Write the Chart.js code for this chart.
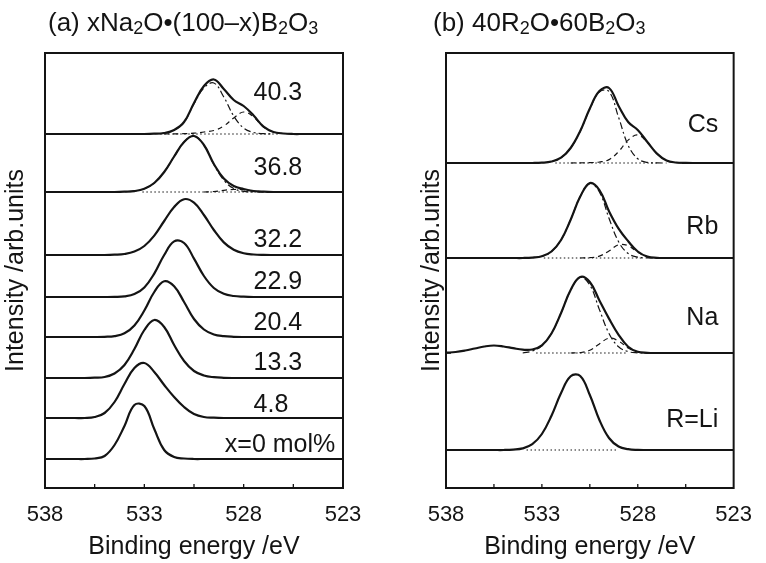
<!DOCTYPE html>
<html>
<head>
<meta charset="utf-8">
<script src="https://cdn.jsdelivr.net/npm/chart.js@4.4.1/dist/chart.umd.min.js"></script>
<style>
  html, body { margin: 0; padding: 0; background: #fff; }
  #wrap { position: relative; width: 766px; height: 563px; }
  canvas { position: absolute; top: 0; }
  #chartA { left: 0; }
  #chartB { left: 383px; }
</style>
</head>
<body>
<div id="wrap">
  <canvas id="chartA" width="383" height="563"></canvas>
  <canvas id="chartB" width="383" height="563"></canvas>
</div>
<script>
// binding energy grid (eV), 0.5 eV steps from 538 down to 523
const ENERGY = [538, 537.5, 537, 536.5, 536, 535.5, 535, 534.5, 534, 533.5, 533, 532.5, 532, 531.5, 531,
  530.5, 530, 529.5, 529, 528.5, 528, 527.5, 527, 526.5, 526, 525.5, 525, 524.5, 524, 523.5, 523];
const ENERGY_LABELS = [538, 533, 528, 523];
const MINOR_TICKS = [535.5, 533, 530.5, 528, 525.5];

// (a) xNa2O-(100-x)B2O3 : intensities above each baseline (arb. units)
const labelsA = ['x=0 mol%', '4.8', '13.3', '20.4', '22.9', '32.2', '36.8', '40.3'];
const offsetsA = [29, 70, 110, 151, 191, 233, 296, 354];
const labelEnergyA = [528.95, 527.5, 527.5, 527.5, 527.5, 527.5, 527.5, 527.5];
const labelRiseA = [14, 13, 15, 14, 15, 15, 24, 41];

const na0 = [0, 0, 0, 0, 0, 0.5, 3, 14, 33, 54, 53, 30, 9, 2, 0.5, 0, 0, 0, 0, 0, 0, 0, 0, 0, 0, 0, 0, 0, 0, 0, 0];
const na48 = [0, 0, 0, 0, 0, 1, 5, 16, 34, 50, 55, 46, 33, 21, 11, 4, 1, 0.3, 0, 0, 0, 0, 0, 0, 0, 0, 0, 0, 0, 0, 0];
const na133 = [0, 0, 0, 0, 0, 0.3, 1, 4.5, 13, 29, 48, 58, 51, 33, 17, 7, 2.5, 0.8, 0.2, 0, 0, 0, 0, 0, 0, 0, 0, 0, 0, 0, 0];
const na204 = [0, 0, 0, 0, 0, 0, 0.2, 0.9, 3.7, 11.5, 26.5, 45, 55.7, 50.7, 35, 18, 7.5, 2.5, 0.8, 0.2, 0, 0, 0, 0, 0, 0, 0, 0, 0, 0, 0];
const na229 = [0, 0, 0, 0, 0, 0, 0, 0.1, 0.6, 2.9, 9.6, 23.4, 42, 55.6, 54, 38.4, 21, 9, 3.2, 1, 0.3, 0, 0, 0, 0, 0, 0, 0, 0, 0, 0];
const na322 = [0, 0, 0, 0, 0, 0, 0, 0.3, 1, 3.4, 9, 19.4, 34, 48, 55.8, 52.4, 40, 25, 12.6, 5.2, 1.7, 0.5, 0.1, 0, 0, 0, 0, 0, 0, 0, 0];
const na368 = [0, 0, 0, 0, 0, 0, 0, 0, 0.3, 0.9, 3.3, 9, 20, 35.5, 50, 56, 47, 28, 13.5, 6, 3, 1, 0.3, 0, 0, 0, 0, 0, 0, 0, 0];
const na368Main = [null, null, null, null, null, null, null, 0, 0.3, 0.9, 3.3, 9, 20, 35.5, 50, 56, 47, 27.5, 11.8, 3.5, 0.7, 0.1, 0, null, null, null, null, null, null, null, null];
const na368Low = [null, null, null, null, null, null, null, null, null, null, null, null, null, null, null, null, 0, 0.5, 1.7, 2.5, 2.3, 0.9, 0.3, 0, null, null, null, null, null, null, null];
const na403 = [0, 0, 0, 0, 0, 0, 0, 0, 0, 0, 0, 0.3, 1, 4, 12, 31, 48, 54.5, 45, 34, 28, 18.5, 7.3, 2, 0.5, 0, 0, 0, 0, 0, 0];
const na403Main = [null, null, null, null, null, null, null, null, null, null, 0, 0.3, 1, 4, 11.7, 30.2, 46, 51, 37, 18, 6, 1.5, 0.3, 0, null, null, null, null, null, null, null];
const na403Low = [null, null, null, null, null, null, null, null, null, null, null, null, 0.1, 0.2, 0.3, 0.8, 2, 3.5, 8, 16, 22, 17, 7, 2, 0.5, 0, null, null, null, null, null];
const bg368 = [533.1, 526.2];
const bg403 = [532.2, 526.2];

// (b) 40R2O-60B2O3
const labelsB = ['R=Li', 'Na', 'Rb', 'Cs'];
const offsetsB = [38, 135, 230, 325];
const labelEnergyB = [523.8, 523.8, 523.8, 523.8];
const labelRiseB = [30, 35, 31, 38];

const li = [0, 0, 0, 0, 0, 0, 0, 0.4, 1.6, 5.8, 16, 34.2, 56.9, 73.7, 74, 55, 30, 12, 3.5, 0.8, 0.1, 0, 0, 0, 0, 0, 0, 0, 0, 0, 0];
const na = [0.3, 1, 2.5, 4.5, 6.5, 7.5, 6.5, 4.8, 3.3, 3.5, 7.7, 19.5, 40, 63, 76, 71, 52.5, 34.4, 18.2, 6.3, 1.2, 0.2, 0, 0, 0, 0, 0, 0, 0, 0, 0];
const naMain = [null, null, null, null, null, null, null, null, 0, 2, 7.2, 19.5, 40, 62.8, 75.6, 68, 43.4, 19.6, 6.2, 1.4, 0.2, 0, null, null, null, null, null, null, null, null, null];
const naLow = [null, null, null, null, null, null, null, null, null, null, null, null, null, 0, 0.4, 2.8, 9.1, 14.8, 12, 4.9, 1, 0.1, 0, null, null, null, null, null, null, null, null];
const rb = [0, 0, 0, 0, 0, 0, 0, 0, 0, 0.4, 1.7, 6.5, 18, 38.3, 61.4, 74.9, 67.9, 46.8, 29.4, 16.8, 6.5, 1.4, 0.2, 0, 0, 0, 0, 0, 0, 0, 0];
const rbMain = [null, null, null, null, null, null, null, null, 0, 0.4, 1.7, 6.5, 18, 38.3, 61.4, 74.6, 66, 39.8, 16.2, 4.5, 0.8, 0.1, 0, null, null, null, null, null, null, null, null];
const rbLow = [null, null, null, null, null, null, null, null, null, null, null, null, null, null, 0, 0.3, 1.9, 7, 13.2, 12.3, 5.7, 1.3, 0.15, 0, null, null, null, null, null, null, null];
const cs = [0, 0, 0, 0, 0, 0, 0, 0, 0, 0, 0.3, 1.5, 5.3, 15, 32, 54.5, 72, 75, 57, 41, 33, 21, 9.4, 2.5, 0.5, 0.1, 0, 0, 0, 0, 0];
const csMain = [null, null, null, null, null, null, null, null, null, 0, 0.3, 1.5, 5.3, 14.8, 31.8, 54, 71, 71.5, 45.6, 17.7, 4.2, 0.6, 0.1, 0, null, null, null, null, null, null, null];
const csLow = [null, null, null, null, null, null, null, null, null, null, null, null, null, 0, 0.2, 0.4, 1, 3.4, 11.4, 22.9, 28, 20.7, 9.3, 2.5, 0.4, 0, null, null, null, null, null];
const bgLi = [533.8, 529.0];
const bgNa = [533.3, 528.5];
const bgRb = [532.9, 527.8];
const bgCs = [532.3, 527.0];

const INK = '#141414';
const FONT = '"Liberation Sans", Arial, Helvetica, sans-serif';

const spectraA = [
  { offset: offsetsA[0], total: na0 },
  { offset: offsetsA[1], total: na48 },
  { offset: offsetsA[2], total: na133 },
  { offset: offsetsA[3], total: na204 },
  { offset: offsetsA[4], total: na229 },
  { offset: offsetsA[5], total: na322 },
  { offset: offsetsA[6], total: na368, parts: [na368Main, na368Low], bg: bg368 },
  { offset: offsetsA[7], total: na403, parts: [na403Main, na403Low], bg: bg403 },
];
const spectraB = [
  { offset: offsetsB[0], total: li, bg: bgLi },
  { offset: offsetsB[1], total: na, parts: [naMain, naLow], bg: bgNa },
  { offset: offsetsB[2], total: rb, parts: [rbMain, rbLow], bg: bgRb },
  { offset: offsetsB[3], total: cs, parts: [csMain, csLow], bg: bgCs },
];

const toPoints = (values, offset) =>
  ENERGY.map((e, i) => ({ x: e, y: values[i] === null ? null : offset + values[i] }));

function buildDatasets(spectra) {
  const datasets = [];
  spectra.forEach((s) => {
    datasets.push({ data: toPoints(s.total, s.offset), borderColor: INK, borderWidth: 2.2, order: 0 });
    (s.parts || []).forEach((p, k) => {
      datasets.push({
        data: toPoints(p, s.offset),
        borderColor: INK,
        borderWidth: 1.2,
        borderDash: k === 0 ? [7, 3, 2, 3] : [5, 4],
        order: 1,
      });
    });
    if (s.bg) {
      datasets.push({
        data: s.bg.map((e) => ({ x: e, y: s.offset })),
        borderColor: INK,
        borderWidth: 1.2,
        borderDash: [1.5, 2.5],
        tension: 0,
        order: 2,
      });
    }
  });
  return datasets;
}

// frame, inward ticks, curve labels and the panel heading
const panelDecor = {
  id: 'panelDecor',
  afterDraw(chart, args, opts) {
    const { ctx, chartArea: a, scales: { x, y } } = chart;
    ctx.save();
    ctx.strokeStyle = INK;
    ctx.lineWidth = 2;
    ctx.strokeRect(a.left, a.top, a.right - a.left, a.bottom - a.top);

    ctx.lineWidth = 1.3;
    ctx.beginPath();
    MINOR_TICKS.forEach((v) => {
      const px = x.getPixelForValue(v);
      ctx.moveTo(px, a.bottom);
      ctx.lineTo(px, a.bottom - 4);
    });
    opts.offsets.forEach((v) => {
      const py = y.getPixelForValue(v);
      ctx.moveTo(a.left, py);
      ctx.lineTo(a.left + 5, py);
    });
    ctx.stroke();

    ctx.fillStyle = INK;
    ctx.font = '25px ' + FONT;
    ctx.textBaseline = 'middle';
    ctx.textAlign = opts.labelAlign;
    opts.labels.forEach((t, i) => {
      ctx.fillText(t, x.getPixelForValue(opts.labelEnergy[i]),
        y.getPixelForValue(opts.offsets[i] + opts.labelRise[i]));
    });

    ctx.textAlign = 'left';
    ctx.textBaseline = 'alphabetic';
    let hx = opts.headingX;
    opts.heading.forEach(([text, sub]) => {
      ctx.font = (sub ? '18px ' : '26px ') + FONT;
      ctx.fillText(text, hx, sub ? 34 : 31);
      hx += ctx.measureText(text).width;
    });
    ctx.restore();
  },
};

function makePanel(canvasId, spectra, decor, yAxisWidth, rightPad, yTitlePad) {
  return new Chart(document.getElementById(canvasId), {
    type: 'line',
    data: { datasets: buildDatasets(spectra) },
    options: {
      responsive: false,
      animation: false,
      devicePixelRatio: 1,
      layout: { padding: { top: 53, right: rightPad, bottom: 0, left: 0 } },
      datasets: {
        line: {
          pointRadius: 0,
          fill: false,
          tension: 0.4,
          spanGaps: false,
        },
      },
      plugins: {
        colors: { enabled: false },
        legend: { display: false },
        tooltip: { enabled: false },
        title: { display: false },
        panelDecor: decor,
      },
      scales: {
        x: {
          type: 'linear',
          reverse: true,
          min: 523,
          max: 538,
          afterBuildTicks: (s) => { s.ticks = ENERGY_LABELS.map((v) => ({ value: v })); },
          afterFit: (s) => { s.height = 75; },
          grid: { display: false, drawTicks: false },
          border: { display: false },
          ticks: { color: INK, padding: 14, maxRotation: 0, font: { family: FONT, size: 22 } },
          title: {
            display: true,
            text: 'Binding energy /eV',
            color: INK,
            font: { family: FONT, size: 25 },
            padding: { top: 0, bottom: 1 },
          },
        },
        y: {
          type: 'linear',
          min: 0,
          max: 435,
          afterFit: (s) => { s.width = yAxisWidth; },
          grid: { display: false, drawTicks: false },
          border: { display: false },
          ticks: { display: false },
          title: {
            display: true,
            text: 'Intensity /arb.units',
            color: INK,
            font: { family: FONT, size: 25 },
            padding: { top: yTitlePad, bottom: 0 },
          },
        },
      },
    },
    plugins: [panelDecor],
  });
}

makePanel('chartA', spectraA, {
  offsets: offsetsA,
  labels: labelsA,
  labelEnergy: labelEnergyA,
  labelRise: labelRiseA,
  labelAlign: 'left',
  headingX: 48,
  heading: [['(a) xNa', 0], ['2', 1], ['O\u2022(100\u2013x)B', 0], ['2', 1], ['O', 0], ['3', 1]],
}, 45, 40, 1);

makePanel('chartB', spectraB, {
  offsets: offsetsB,
  labels: labelsB,
  labelEnergy: labelEnergyB,
  labelRise: labelRiseB,
  labelAlign: 'right',
  headingX: 50,
  heading: [['(b) 40R', 0], ['2', 1], ['O\u202260B', 0], ['2', 1], ['O', 0], ['3', 1]],
}, 63, 23, 34);
</script>
</body>
</html>
